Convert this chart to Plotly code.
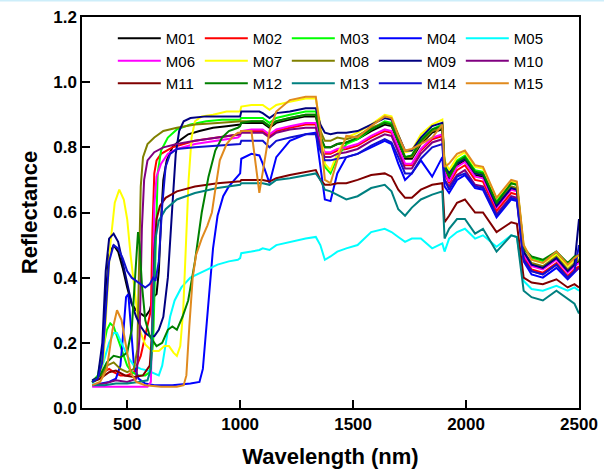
import plotly.graph_objects as go

# ---------------- data ----------------
NAMES = ["M01", "M02", "M03", "M04", "M05", "M06", "M07", "M08",
         "M09", "M10", "M11", "M12", "M13", "M14", "M15"]
COLORS = ["#000000", "#FF0000", "#00FF00", "#0000FF", "#00FFFF", "#FF00FF",
          "#FFFF00", "#808000", "#000080", "#800080", "#800000", "#008000",
          "#008080", "#1010D0", "#E08A1E"]

# shared SWIR wavelength grid (nm)
SWIR_WL = [1000, 1005, 1050, 1085, 1100, 1130, 1160, 1220, 1290, 1335, 1355, 1375,
           1400, 1430, 1470, 1520, 1580, 1640, 1670, 1700, 1730, 1760, 1800, 1850,
           1895, 1905, 1925, 1960, 1995, 2040, 2075, 2135, 2200, 2225, 2255, 2290,
           2340, 2400, 2450, 2480, 2500]

# ---- visible / NIR part of each spectrum ----
M01_VIS_WL = [345, 370, 390, 405, 420, 440, 460, 480, 500, 520, 540, 560, 580, 600, 615, 630, 640, 650, 660, 675, 700, 730, 770, 820, 880, 940, 990]
M01_VIS_R = [0.08, 0.09, 0.15, 0.35, 0.47, 0.50, 0.48, 0.43, 0.37, 0.32, 0.30, 0.29, 0.28, 0.30, 0.34, 0.35, 0.42, 0.58, 0.70, 0.76, 0.80, 0.82, 0.84, 0.85, 0.86, 0.865, 0.87]
M02_VIS_WL = [345, 370, 395, 420, 440, 470, 500, 530, 560, 580, 595, 605, 612, 620, 630, 650, 700, 800, 900, 990]
M02_VIS_R = [0.08, 0.09, 0.11, 0.12, 0.11, 0.10, 0.10, 0.11, 0.16, 0.22, 0.26, 0.30, 0.55, 0.72, 0.76, 0.78, 0.80, 0.82, 0.83, 0.84]
M03_VIS_WL = [345, 370, 390, 410, 425, 440, 460, 480, 500, 520, 550, 580, 600, 615, 625, 635, 650, 680, 720, 780, 850, 920, 990]
M03_VIS_R = [0.08, 0.10, 0.17, 0.24, 0.26, 0.25, 0.21, 0.17, 0.13, 0.11, 0.10, 0.10, 0.11, 0.20, 0.50, 0.72, 0.79, 0.83, 0.855, 0.87, 0.88, 0.885, 0.885]
M04_VIS_WL = [345, 380, 420, 450, 470, 485, 495, 505, 515, 530, 550, 580, 620, 700, 780, 820, 835, 850, 865, 880, 900, 925, 950, 975, 990]
M04_VIS_R = [0.07, 0.075, 0.08, 0.09, 0.13, 0.25, 0.34, 0.35, 0.25, 0.13, 0.09, 0.075, 0.07, 0.07, 0.075, 0.08, 0.12, 0.24, 0.38, 0.49, 0.59, 0.65, 0.68, 0.70, 0.71]
M05_VIS_WL = [345, 370, 395, 420, 440, 455, 475, 500, 530, 560, 590, 620, 640, 655, 670, 690, 710, 740, 780, 840, 900, 950, 990]
M05_VIS_R = [0.075, 0.09, 0.14, 0.20, 0.23, 0.23, 0.20, 0.16, 0.13, 0.12, 0.115, 0.105, 0.10, 0.13, 0.20, 0.28, 0.33, 0.37, 0.40, 0.42, 0.44, 0.45, 0.455]
M06_VIS_WL = [345, 400, 450, 500, 550, 590, 605, 612, 620, 630, 650, 680, 720, 800, 900, 990]
M06_VIS_R = [0.065, 0.065, 0.065, 0.065, 0.065, 0.065, 0.08, 0.30, 0.62, 0.71, 0.75, 0.78, 0.795, 0.81, 0.82, 0.83]
M07_VIS_WL = [345, 375, 395, 410, 425, 445, 465, 485, 500, 515, 530, 545, 560, 580, 610, 640, 665, 685, 705, 720, 735, 748, 760, 772, 785, 800, 830, 880, 940, 990]
M07_VIS_R = [0.08, 0.09, 0.15, 0.32, 0.50, 0.63, 0.67, 0.64, 0.58, 0.47, 0.37, 0.29, 0.23, 0.195, 0.175, 0.175, 0.19, 0.19, 0.17, 0.16, 0.19, 0.30, 0.50, 0.70, 0.83, 0.88, 0.895, 0.90, 0.91, 0.91]
M08_VIS_WL = [345, 380, 410, 440, 470, 500, 530, 545, 553, 560, 570, 590, 620, 660, 720, 800, 900, 990]
M08_VIS_R = [0.08, 0.09, 0.13, 0.14, 0.12, 0.11, 0.12, 0.18, 0.45, 0.68, 0.77, 0.81, 0.83, 0.85, 0.86, 0.87, 0.875, 0.88]
M09_VIS_WL = [345, 370, 390, 405, 420, 440, 460, 480, 500, 520, 540, 560, 580, 600, 620, 640, 660, 680, 700, 715, 730, 750, 780, 850, 920, 990]
M09_VIS_R = [0.085, 0.095, 0.20, 0.42, 0.52, 0.535, 0.51, 0.45, 0.38, 0.32, 0.28, 0.25, 0.23, 0.22, 0.22, 0.24, 0.28, 0.40, 0.62, 0.78, 0.85, 0.88, 0.89, 0.895, 0.895, 0.895]
M10_VIS_WL = [345, 400, 450, 500, 540, 555, 565, 575, 590, 620, 660, 720, 800, 900, 990]
M10_VIS_R = [0.07, 0.075, 0.085, 0.08, 0.09, 0.22, 0.55, 0.70, 0.76, 0.785, 0.80, 0.81, 0.82, 0.83, 0.84]
M11_VIS_WL = [345, 380, 420, 450, 490, 530, 570, 600, 612, 620, 630, 645, 670, 720, 800, 900, 990]
M11_VIS_R = [0.08, 0.09, 0.11, 0.115, 0.10, 0.095, 0.10, 0.13, 0.25, 0.48, 0.58, 0.62, 0.645, 0.665, 0.68, 0.69, 0.695]
M12_VIS_WL = [345, 380, 410, 440, 470, 500, 520, 535, 548, 555, 565, 580, 600, 630, 655, 680, 700, 720, 745, 770, 800, 830, 860, 890, 920, 950, 990]
M12_VIS_R = [0.08, 0.10, 0.14, 0.16, 0.155, 0.17, 0.24, 0.40, 0.54, 0.50, 0.38, 0.27, 0.22, 0.19, 0.20, 0.24, 0.25, 0.24, 0.28, 0.33, 0.45, 0.60, 0.71, 0.79, 0.83, 0.85, 0.86]
M13_VIS_WL = [345, 400, 450, 500, 550, 590, 605, 615, 625, 640, 670, 720, 800, 900, 990]
M13_VIS_R = [0.07, 0.07, 0.075, 0.075, 0.08, 0.085, 0.12, 0.35, 0.52, 0.575, 0.61, 0.64, 0.66, 0.675, 0.685]
M14_VIS_WL = [345, 370, 390, 405, 420, 440, 460, 480, 500, 520, 540, 560, 580, 600, 615, 625, 640, 655, 670, 690, 720, 800, 900, 990]
M14_VIS_R = [0.08, 0.09, 0.14, 0.30, 0.45, 0.50, 0.49, 0.46, 0.42, 0.40, 0.39, 0.38, 0.37, 0.38, 0.40, 0.39, 0.45, 0.62, 0.74, 0.78, 0.795, 0.80, 0.805, 0.81]
M15_VIS_WL = [345, 380, 410, 435, 455, 475, 495, 515, 540, 580, 650, 720, 750, 762, 775, 790, 805, 830, 855, 875, 890, 910, 940, 970, 990]
M15_VIS_R = [0.07, 0.08, 0.12, 0.24, 0.30, 0.27, 0.19, 0.11, 0.08, 0.07, 0.065, 0.065, 0.07, 0.10, 0.25, 0.40, 0.47, 0.52, 0.56, 0.60, 0.67, 0.76, 0.81, 0.835, 0.845]

# ---- SWIR part of each spectrum (on SWIR_WL) ----
M01_SWIR_R = [0.87, 0.875, 0.875, 0.875, 0.875, 0.86, 0.875, 0.885, 0.895, 0.895, 0.83, 0.80, 0.80, 0.81, 0.815, 0.825, 0.85, 0.87, 0.865, 0.815, 0.765, 0.765, 0.81, 0.845, 0.855, 0.73, 0.70, 0.745, 0.76, 0.715, 0.71, 0.62, 0.675, 0.67, 0.475, 0.44, 0.43, 0.46, 0.42, 0.44, 0.45]
M02_SWIR_R = [0.84, 0.85, 0.85, 0.85, 0.85, 0.835, 0.85, 0.86, 0.87, 0.87, 0.81, 0.78, 0.78, 0.79, 0.795, 0.805, 0.83, 0.85, 0.845, 0.795, 0.745, 0.745, 0.79, 0.825, 0.835, 0.72, 0.69, 0.73, 0.745, 0.70, 0.695, 0.605, 0.66, 0.655, 0.465, 0.425, 0.415, 0.445, 0.405, 0.425, 0.435]
M03_SWIR_R = [0.885, 0.89, 0.89, 0.89, 0.89, 0.875, 0.89, 0.90, 0.91, 0.91, 0.84, 0.74, 0.72, 0.77, 0.81, 0.825, 0.855, 0.88, 0.875, 0.825, 0.77, 0.775, 0.825, 0.855, 0.87, 0.75, 0.72, 0.76, 0.775, 0.73, 0.725, 0.635, 0.69, 0.685, 0.49, 0.46, 0.45, 0.475, 0.44, 0.46, 0.47]
M04_SWIR_R = [0.72, 0.765, 0.78, 0.775, 0.75, 0.69, 0.77, 0.82, 0.84, 0.845, 0.74, 0.64, 0.635, 0.72, 0.77, 0.78, 0.80, 0.82, 0.81, 0.75, 0.70, 0.72, 0.76, 0.71, 0.77, 0.68, 0.66, 0.70, 0.715, 0.675, 0.67, 0.585, 0.64, 0.635, 0.45, 0.41, 0.40, 0.43, 0.395, 0.415, 0.43]
M05_SWIR_R = [0.46, 0.475, 0.48, 0.485, 0.49, 0.485, 0.50, 0.51, 0.52, 0.525, 0.50, 0.455, 0.465, 0.48, 0.49, 0.50, 0.54, 0.55, 0.54, 0.525, 0.51, 0.52, 0.52, 0.49, 0.505, 0.48, 0.52, 0.54, 0.55, 0.52, 0.53, 0.495, 0.53, 0.525, 0.39, 0.365, 0.36, 0.375, 0.36, 0.37, 0.36]
M06_SWIR_R = [0.835, 0.85, 0.855, 0.855, 0.855, 0.84, 0.855, 0.865, 0.875, 0.875, 0.815, 0.785, 0.785, 0.795, 0.80, 0.81, 0.835, 0.855, 0.85, 0.80, 0.75, 0.75, 0.795, 0.83, 0.84, 0.725, 0.695, 0.74, 0.755, 0.71, 0.705, 0.615, 0.67, 0.665, 0.47, 0.435, 0.425, 0.455, 0.415, 0.435, 0.445]
M07_SWIR_R = [0.91, 0.925, 0.93, 0.93, 0.93, 0.915, 0.93, 0.94, 0.95, 0.95, 0.87, 0.75, 0.73, 0.78, 0.83, 0.845, 0.87, 0.90, 0.895, 0.84, 0.785, 0.79, 0.84, 0.87, 0.885, 0.76, 0.73, 0.77, 0.785, 0.74, 0.735, 0.645, 0.695, 0.69, 0.50, 0.455, 0.445, 0.47, 0.435, 0.455, 0.46]
M08_SWIR_R = [0.88, 0.88, 0.88, 0.88, 0.88, 0.865, 0.88, 0.89, 0.90, 0.90, 0.85, 0.82, 0.82, 0.83, 0.825, 0.835, 0.86, 0.875, 0.87, 0.82, 0.77, 0.77, 0.815, 0.85, 0.86, 0.74, 0.71, 0.75, 0.765, 0.72, 0.715, 0.625, 0.68, 0.675, 0.48, 0.445, 0.435, 0.465, 0.425, 0.445, 0.455]
M09_SWIR_R = [0.895, 0.91, 0.91, 0.91, 0.905, 0.89, 0.905, 0.91, 0.92, 0.92, 0.87, 0.845, 0.84, 0.845, 0.845, 0.85, 0.87, 0.89, 0.885, 0.835, 0.79, 0.79, 0.83, 0.865, 0.875, 0.74, 0.72, 0.75, 0.765, 0.72, 0.715, 0.62, 0.675, 0.67, 0.48, 0.44, 0.43, 0.46, 0.42, 0.44, 0.58]
M10_SWIR_R = [0.84, 0.845, 0.845, 0.845, 0.845, 0.83, 0.845, 0.855, 0.86, 0.86, 0.80, 0.77, 0.77, 0.78, 0.785, 0.795, 0.82, 0.84, 0.835, 0.785, 0.735, 0.735, 0.78, 0.815, 0.825, 0.70, 0.68, 0.715, 0.73, 0.685, 0.68, 0.595, 0.65, 0.645, 0.455, 0.42, 0.41, 0.44, 0.40, 0.42, 0.43]
M11_SWIR_R = [0.695, 0.70, 0.70, 0.70, 0.70, 0.695, 0.705, 0.715, 0.725, 0.73, 0.70, 0.685, 0.685, 0.69, 0.69, 0.70, 0.715, 0.72, 0.71, 0.67, 0.645, 0.645, 0.67, 0.685, 0.69, 0.57, 0.59, 0.63, 0.64, 0.60, 0.60, 0.54, 0.57, 0.565, 0.40, 0.385, 0.38, 0.395, 0.37, 0.38, 0.37]
M12_SWIR_R = [0.865, 0.875, 0.88, 0.88, 0.88, 0.865, 0.88, 0.89, 0.90, 0.90, 0.835, 0.80, 0.80, 0.81, 0.815, 0.83, 0.855, 0.875, 0.87, 0.82, 0.77, 0.775, 0.82, 0.855, 0.865, 0.74, 0.71, 0.755, 0.77, 0.725, 0.72, 0.63, 0.69, 0.685, 0.49, 0.465, 0.455, 0.48, 0.445, 0.465, 0.47]
M13_SWIR_R = [0.685, 0.69, 0.69, 0.69, 0.69, 0.685, 0.70, 0.705, 0.715, 0.72, 0.70, 0.67, 0.665, 0.655, 0.64, 0.65, 0.675, 0.685, 0.665, 0.61, 0.59, 0.615, 0.64, 0.655, 0.665, 0.52, 0.55, 0.58, 0.58, 0.535, 0.55, 0.48, 0.53, 0.525, 0.36, 0.34, 0.33, 0.36, 0.335, 0.32, 0.29]
M14_SWIR_R = [0.81, 0.82, 0.82, 0.82, 0.82, 0.80, 0.82, 0.83, 0.84, 0.84, 0.79, 0.76, 0.76, 0.765, 0.77, 0.78, 0.805, 0.825, 0.815, 0.77, 0.72, 0.72, 0.765, 0.80, 0.81, 0.70, 0.67, 0.71, 0.72, 0.68, 0.675, 0.59, 0.645, 0.64, 0.455, 0.42, 0.41, 0.44, 0.40, 0.42, 0.50]
M15_SWIR_R = [0.845, 0.85, 0.85, 0.66, 0.72, 0.85, 0.91, 0.945, 0.955, 0.955, 0.85, 0.70, 0.69, 0.76, 0.835, 0.83, 0.865, 0.895, 0.89, 0.835, 0.79, 0.795, 0.81, 0.83, 0.87, 0.74, 0.75, 0.78, 0.79, 0.745, 0.74, 0.645, 0.70, 0.695, 0.50, 0.455, 0.445, 0.48, 0.44, 0.46, 0.47]

VIS_WL = [M01_VIS_WL, M02_VIS_WL, M03_VIS_WL, M04_VIS_WL, M05_VIS_WL, M06_VIS_WL, M07_VIS_WL, M08_VIS_WL,
          M09_VIS_WL, M10_VIS_WL, M11_VIS_WL, M12_VIS_WL, M13_VIS_WL, M14_VIS_WL, M15_VIS_WL]
VIS_R = [M01_VIS_R, M02_VIS_R, M03_VIS_R, M04_VIS_R, M05_VIS_R, M06_VIS_R, M07_VIS_R, M08_VIS_R,
         M09_VIS_R, M10_VIS_R, M11_VIS_R, M12_VIS_R, M13_VIS_R, M14_VIS_R, M15_VIS_R]
SWIR_R = [M01_SWIR_R, M02_SWIR_R, M03_SWIR_R, M04_SWIR_R, M05_SWIR_R, M06_SWIR_R, M07_SWIR_R, M08_SWIR_R,
          M09_SWIR_R, M10_SWIR_R, M11_SWIR_R, M12_SWIR_R, M13_SWIR_R, M14_SWIR_R, M15_SWIR_R]

X_TICKS = [500, 1000, 1500, 2000, 2500]
Y_TICKS = [0.0, 0.2, 0.4, 0.6, 0.8, 1.0, 1.2]

FONT = "Liberation Sans, Arial, sans-serif"

# ---------------- figure ----------------
fig = go.Figure()
for name, col, vw, vr, sr in zip(NAMES, COLORS, VIS_WL, VIS_R, SWIR_R):
    fig.add_trace(go.Scatter(
        x=vw + SWIR_WL, y=vr + sr, mode="lines", name=name,
        line=dict(color=col, width=2)))

fig.update_layout(
    width=604, height=472,
    margin=dict(l=82, r=25, t=17, b=64, autoexpand=False),
    plot_bgcolor="white", paper_bgcolor="white",
    font=dict(family=FONT, color="black"),
    legend=dict(orientation="h", x=0.062, y=0.987, xanchor="left", yanchor="top",
                font=dict(family=FONT, size=15, color="black"),
                bgcolor="rgba(0,0,0,0)", borderwidth=0,
                itemwidth=43, entrywidth=29, entrywidthmode="pixels",
                tracegroupgap=0),
    shapes=[dict(type="line", xref="paper", yref="paper", x0=-0.2, x1=1.1,
                 y0=1.0425, y1=1.0425, line=dict(color="#cdeefa", width=2))],
)
fig.update_xaxes(range=[300, 2500], tickvals=X_TICKS, ticktext=[str(v) for v in X_TICKS],
                 ticks="inside", ticklen=8, tickwidth=1.5, tickcolor="black",
                 showline=True, linecolor="black", linewidth=1.5, mirror=True,
                 showgrid=False, zeroline=False, automargin=False,
                 tickfont=dict(family=FONT, size=17, color="black", weight="bold"),
                 title=dict(text="<b>Wavelength (nm)</b>",
                            font=dict(family=FONT, size=22, color="black"), standoff=15))
fig.update_yaxes(range=[0, 1.2], tickvals=Y_TICKS, ticktext=["%.1f" % v for v in Y_TICKS],
                 ticks="inside", ticklen=8, tickwidth=1.5, tickcolor="black",
                 showline=True, linecolor="black", linewidth=1.5, mirror=True,
                 showgrid=False, zeroline=False, automargin=False,
                 tickfont=dict(family=FONT, size=17, color="black", weight="bold"),
                 title=dict(text="<b>Reflectance</b>",
                            font=dict(family=FONT, size=22, color="black"), standoff=10))

fig.write_html("out.html")
